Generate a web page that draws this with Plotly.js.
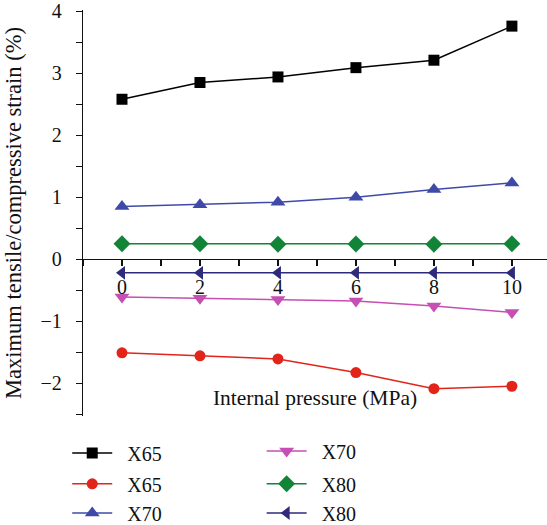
<!DOCTYPE html>
<html>
<head>
<meta charset="utf-8">
<script src="https://cdn.plot.ly/plotly-3.0.1.min.js"></script>
<style>html,body{margin:0;padding:0;background:#fff;}#chart{width:547px;height:525px;}</style>
</head>
<body>
<div id="chart"></div>
<script>
const pressure = [0, 2, 4, 6, 8, 10];
const x65Tensile = [2.58, 2.85, 2.94, 3.09, 3.21, 3.76];
const x65Compressive = [-1.51, -1.56, -1.61, -1.83, -2.09, -2.05];
const x70Tensile = [0.85, 0.88, 0.92, 1.00, 1.125, 1.23];
const x70Compressive = [-0.61, -0.63, -0.65, -0.675, -0.755, -0.86];
const x80Tensile = [0.25, 0.25, 0.24, 0.245, 0.24, 0.25];
const x80Compressive = [-0.22, -0.22, -0.22, -0.22, -0.22, -0.22];
const seriesNames = ["X65", "X65", "X70", "X70", "X80", "X80"];

const FONT = "Liberation Serif";
const yRange = [-2.53, 4.02];
const PAD = "\u00a0\u00a0";

function tr(y, name, color, symbol, size, legend) {
  return {
    x: pressure, y: y, name: PAD + name, type: "scatter", mode: "lines+markers",
    line: {color: color, width: 1.5},
    marker: {symbol: symbol, size: size, color: color},
    legend: legend, cliponaxis: false
  };
}

const data = [
  tr(x65Tensile, seriesNames[0], "#000000", "square", 11, "legend"),
  tr(x65Compressive, seriesNames[1], "#e1251b", "circle", 11, "legend2"),
  tr(x70Tensile, seriesNames[2], "#3f4aa8", "triangle-up", 13, "legend3"),
  tr(x70Compressive, seriesNames[3], "#c64fb3", "triangle-down", 13, "legend4"),
  tr(x80Tensile, seriesNames[4], "#118437", "diamond", 13, "legend5"),
  tr(x80Compressive, seriesNames[5], "#2e2a7c", "triangle-left", 12, "legend6")
];

function leg(x, y) {
  return {x: x, y: y, xanchor: "left", yanchor: "middle", orientation: "v",
    font: {family: FONT, size: 20, color: "#111"}, itemwidth: 40,
    bgcolor: "rgba(0,0,0,0)", borderwidth: 0, tracegroupgap: 0};
}
const c1 = -0.034, c2 = 0.385;

const layout = {
  width: 547, height: 525,
  margin: {l: 83, r: 0, t: 10, b: 109, autoexpand: false},
  paper_bgcolor: "#fff", plot_bgcolor: "#fff",
  font: {family: FONT, size: 20, color: "#111"},
  showlegend: true,
  xaxis: {
    range: [-1, 10.9], dtick: 2, tick0: 0, automargin: false,
    anchor: "free", position: (0 - yRange[0]) / (yRange[1] - yRange[0]),
    showgrid: false, zeroline: false, showline: true, linecolor: "#111", linewidth: 1.2,
    ticks: "outside", ticklen: 6, tickwidth: 1.2, tickcolor: "#111",
    ticklabelstandoff: 4,
    minor: {dtick: 1, ticks: "outside", ticklen: 6, tickwidth: 1.2, tickcolor: "#111"},
    tickfont: {family: FONT, size: 20, color: "#111"},
    title: {text: "Internal pressure (MPa)", font: {family: FONT, size: 21.5, color: "#111"}, standoff: 92}
  },
  yaxis: {
    range: yRange, dtick: 1, tick0: 0, automargin: false,
    showgrid: false, zeroline: false, showline: true, linecolor: "#111", linewidth: 1.2,
    ticks: "outside", ticklen: 6, tickwidth: 1.2, tickcolor: "#111",
    ticklabelstandoff: 10,
    minor: {dtick: 0.5, ticks: "outside", ticklen: 6, tickwidth: 1.2, tickcolor: "#111"},
    tickfont: {family: FONT, size: 20, color: "#111"},
    title: {text: "Maximum tensile/compressive strain (%)", font: {family: FONT, size: 22.5, color: "#111"}, standoff: 12}
  },
  legend: leg(c1, -0.091),
  legend2: leg(c1, -0.167),
  legend3: leg(c1, -0.239),
  legend4: leg(c2, -0.086),
  legend5: leg(c2, -0.167),
  legend6: leg(c2, -0.239)
};

Plotly.newPlot("chart", data, layout, {displayModeBar: false, staticPlot: true});
</script>
</body>
</html>
